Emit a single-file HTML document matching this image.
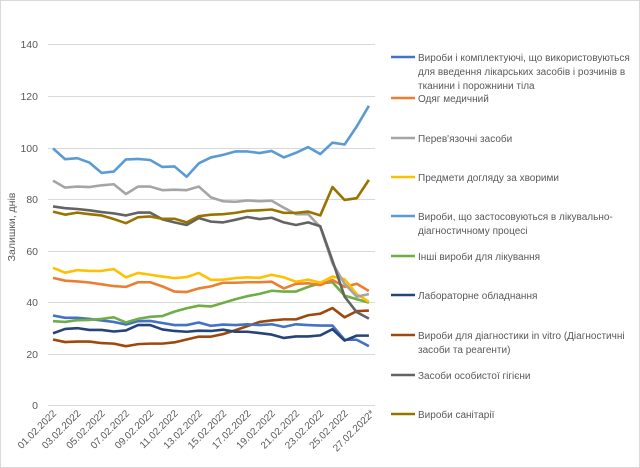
<!DOCTYPE html>
<html><head><meta charset="utf-8"><style>
html,body{margin:0;padding:0;background:#fff;}
svg{display:block;font-family:"Liberation Sans",sans-serif;}
</style></head><body>
<svg width="640" height="468" viewBox="0 0 640 468">
<rect x="0.5" y="0.5" width="639" height="467" fill="#fff" stroke="#d9d9d9"/>
<g stroke="#d9d9d9" stroke-width="1">
<line x1="48" x2="375" y1="44.5" y2="44.5"/>
<line x1="48" x2="375" y1="96.5" y2="96.5"/>
<line x1="48" x2="375" y1="148.5" y2="148.5"/>
<line x1="48" x2="375" y1="199.5" y2="199.5"/>
<line x1="48" x2="375" y1="251.5" y2="251.5"/>
<line x1="48" x2="375" y1="302.5" y2="302.5"/>
<line x1="48" x2="375" y1="354.5" y2="354.5"/>
<line x1="48" x2="375" y1="405.5" y2="405.5"/>
</g>
<g fill="#595959" font-size="10.5" text-anchor="end">
<text x="38" y="48">140</text>
<text x="38" y="100">120</text>
<text x="38" y="152">100</text>
<text x="38" y="203">80</text>
<text x="38" y="255">60</text>
<text x="38" y="306">40</text>
<text x="38" y="358">20</text>
<text x="38" y="409">0</text>
</g>
<text transform="translate(15,227) rotate(-90)" text-anchor="middle" fill="#595959" font-size="10.5">Залишки, днів</text>
<g fill="#595959" font-size="10" text-anchor="end">
<text transform="translate(57,414) rotate(-45)">01.02.2022</text>
<text transform="translate(81.3,414) rotate(-45)">03.02.2022</text>
<text transform="translate(105.6,414) rotate(-45)">05.02.2022</text>
<text transform="translate(129.9,414) rotate(-45)">07.02.2022</text>
<text transform="translate(154.2,414) rotate(-45)">09.02.2022</text>
<text transform="translate(178.5,414) rotate(-45)">11.02.2022</text>
<text transform="translate(202.8,414) rotate(-45)">13.02.2022</text>
<text transform="translate(227.1,414) rotate(-45)">15.02.2022</text>
<text transform="translate(251.4,414) rotate(-45)">17.02.2022</text>
<text transform="translate(275.7,414) rotate(-45)">19.02.2022</text>
<text transform="translate(300,414) rotate(-45)">21.02.2022</text>
<text transform="translate(324.3,414) rotate(-45)">23.02.2022</text>
<text transform="translate(348.6,414) rotate(-45)">25.02.2022</text>
<text transform="translate(375,414) rotate(-45)">27.02.2022*</text>
</g>
<g transform="translate(53,405) scale(12.15,-2.579)" fill="none" stroke-width="2.6" stroke-linejoin="round">
<polyline vector-effect="non-scaling-stroke" stroke="#9e480e" points="0,25.4 1,24.4 2,24.6 3,24.6 4,24 5,23.8 6,22.8 7,23.6 8,23.8 9,23.8 10,24.3 11,25.4 12,26.5 13,26.5 14,27.5 15,29 16,30.6 17,32.2 18,32.8 19,33.2 20,33.2 21,34.8 22,35.4 23,37.6 24,34 25,36.4 26,36.6"/>
<polyline vector-effect="non-scaling-stroke" stroke="#4472c4" points="0,34.7 1,33.8 2,33.8 3,33.4 4,32.8 5,32.2 6,31.2 7,32.5 8,32.6 9,31.8 10,31 11,31 12,32 13,30.7 14,31.2 15,31 16,31.3 17,31 18,31.3 19,30.3 20,31.3 21,31 22,30.8 23,30.8 24,25.3 25,25.3 26,22.8"/>
<polyline vector-effect="non-scaling-stroke" stroke="#264478" points="0,27.8 1,29.5 2,29.8 3,29.1 4,29.1 5,28.5 6,28.9 7,31 8,31 9,29.3 10,28.7 11,28.4 12,28.8 13,28.7 14,29.2 15,28.4 16,28.4 17,27.9 18,27.3 19,26 20,26.6 21,26.6 22,27 23,29.4 24,25 25,26.9 26,26.9"/>
<polyline vector-effect="non-scaling-stroke" stroke="#70ad47" points="0,32.5 1,32.2 2,32.9 3,33 4,33.4 5,34 6,32 7,33.4 8,34.2 9,34.5 10,36.2 11,37.5 12,38.5 13,38.2 14,39.6 15,41 16,42.2 17,43.1 18,44.3 19,44 20,44 21,45.8 22,47.2 23,47.6 24,42.4 25,41 26,39.7"/>
<polyline vector-effect="non-scaling-stroke" stroke="#ed7d31" points="0,49.3 1,48.2 2,47.9 3,47.5 4,46.8 5,46.1 6,45.8 7,47.6 8,47.6 9,46 10,44 11,43.8 12,45.2 13,46 14,47.4 15,47.4 16,47.6 17,47.6 18,47.8 19,45.2 20,47 21,47.2 22,46.5 23,48.5 24,45.8 25,47 26,44.2"/>
<polyline vector-effect="non-scaling-stroke" stroke="#ffc000" points="0,53.2 1,51.3 2,52.3 3,52 4,52 5,52.7 6,49.5 7,51.2 8,50.5 9,49.8 10,49.2 11,49.6 12,51.2 13,48.5 14,48.6 15,49.2 16,49.5 17,49.3 18,50.5 19,49.5 20,47.8 21,48.6 22,47.4 23,49.8 24,48.8 25,43 26,40"/>
<polyline vector-effect="non-scaling-stroke" stroke="#a5a5a5" points="0,87 1,84.3 2,84.7 3,84.5 4,85.2 5,85.6 6,81.8 7,84.7 8,84.7 9,83.3 10,83.5 11,83.3 12,84.7 13,80.5 14,79 15,78.8 16,79.3 17,79 18,79.2 19,76.5 20,74 21,74 22,69 23,55 24,47 25,42 26,43"/>
<polyline vector-effect="non-scaling-stroke" stroke="#636363" points="0,77 1,76.3 2,76 3,75.5 4,74.8 5,74.3 6,73.5 7,74.6 8,74.6 9,72 10,70.8 11,69.8 12,72.5 13,71.1 14,70.8 15,71.8 16,72.9 17,72.1 18,72.6 19,70.8 20,69.8 21,70.8 22,69.3 23,56 24,42 25,36 26,33.5"/>
<polyline vector-effect="non-scaling-stroke" stroke="#997300" points="0,75 1,73.8 2,74.6 3,74 4,73.5 5,72.1 6,70.5 7,72.8 8,73.1 9,72.2 10,72.2 11,70.8 12,73.2 13,73.8 14,74 15,74.5 16,75.3 17,75.5 18,75.8 19,74.5 20,74.5 21,75 22,73.5 23,84.5 24,79.5 25,80.2 26,87.3"/>
<polyline vector-effect="non-scaling-stroke" stroke="#5b9bd5" points="0,99.5 1,95.3 2,95.7 3,94 4,90 5,90.5 6,95.2 7,95.4 8,95 9,92.3 10,92.5 11,88.5 12,93.7 13,96 14,97 15,98.3 16,98.3 17,97.7 18,98.5 19,96 20,97.8 21,100 22,97.3 23,101.7 24,101 25,108 26,116"/>
</g>
<g stroke-width="2.6">
<line x1="391" x2="415" y1="57" y2="57" stroke="#4472c4"/>
<line x1="391" x2="415" y1="98" y2="98" stroke="#ed7d31"/>
<line x1="391" x2="415" y1="138" y2="138" stroke="#a5a5a5"/>
<line x1="391" x2="415" y1="177" y2="177" stroke="#ffc000"/>
<line x1="391" x2="415" y1="216" y2="216" stroke="#5b9bd5"/>
<line x1="391" x2="415" y1="256" y2="256" stroke="#70ad47"/>
<line x1="391" x2="415" y1="295" y2="295" stroke="#264478"/>
<line x1="391" x2="415" y1="335" y2="335" stroke="#9e480e"/>
<line x1="391" x2="415" y1="375" y2="375" stroke="#636363"/>
<line x1="391" x2="415" y1="414" y2="414" stroke="#997300"/>
</g>
<g fill="#595959" font-size="10">
<text x="418" y="61">Вироби і комплектуючі, що використовуються</text>
<text x="418" y="75">для введення лікарських засобів і розчинів в</text>
<text x="418" y="89">тканини і порожнини тіла</text>
<text x="418" y="102">Одяг медичний</text>
<text x="418" y="142">Перев'язочні засоби</text>
<text x="418" y="181">Предмети догляду за хворими</text>
<text x="418" y="220">Вироби, що застосовуються в лікувально-</text>
<text x="418" y="234">діагностичному процесі</text>
<text x="418" y="260">Інші вироби для лікування</text>
<text x="418" y="299">Лабораторне обладнання</text>
<text x="418" y="339">Вироби для діагностики in vitro (Діагностичні</text>
<text x="418" y="353">засоби та реагенти)</text>
<text x="418" y="379">Засоби особистої гігієни</text>
<text x="418" y="418">Вироби санітарії</text>
</g>
</svg>
</body></html>
